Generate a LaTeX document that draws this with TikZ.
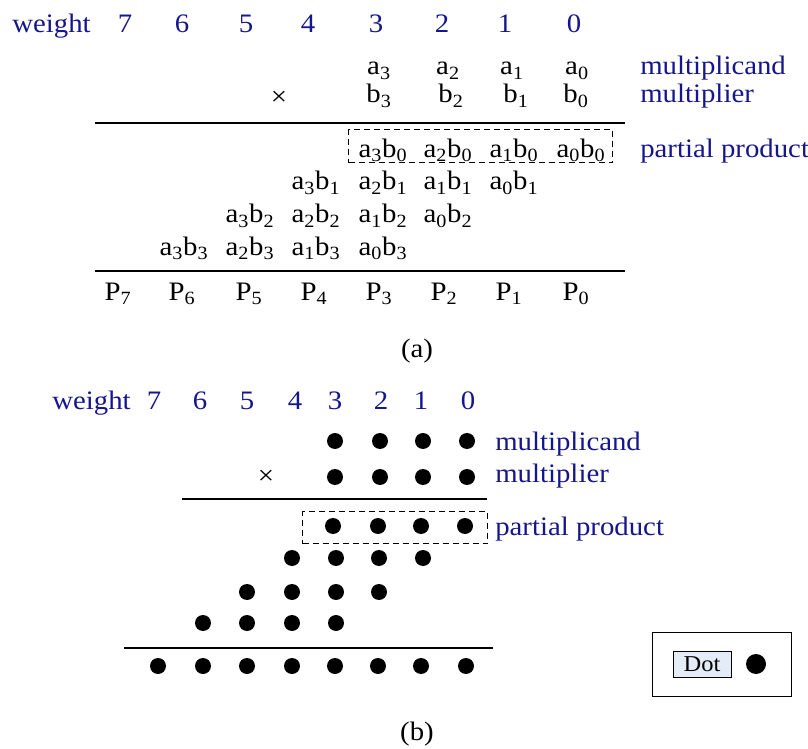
\documentclass[tikz,border=0pt]{standalone}
\usepackage{fontspec}
\setmainfont{Liberation Serif}[FakeStretch=1.08]
\definecolor{navy}{RGB}{22,22,140}
\definecolor{dotbg}{RGB}{228,236,248}
\begin{document}
\begin{tikzpicture}[x=0.75pt,y=-0.75pt,
  txt/.style={inner sep=0pt,anchor=base,font=\fontsize{20}{24}\selectfont},
  lbl/.style={txt,text=navy},
  lblw/.style={lbl,anchor=base west},
  rulel/.style={line width=1.5pt},
  dbox/.style={draw,line width=0.9pt,dash pattern=on 4.5pt off 3pt},
  bdot/.style={circle,fill=black,inner sep=0pt,minimum size=12pt}]
\useasboundingbox (0,0) rectangle (808,749);

% ---------------- (a) ----------------
\node[lblw] (wa) at (12,33) {weight};
\foreach \x [count=\i from 0] in {574,505,442,376,308,246,182,125}
  \node[lbl] (wa\i) at (\x,33) {\i};
\foreach \x [count=\i from 0] in {577,512,448,379}
  \node[txt] (aa\i) at (\x,75) {a\textsubscript{\i}};
\foreach \x [count=\i from 0] in {576,516,451,379}
  \node[txt] (bb\i) at (\x,103) {b\textsubscript{\i}};
\node[lblw] (mcand) at (640,75) {multiplicand};
\node[lblw] (mplier) at (640,103) {multiplier};
\node[txt,anchor=center] (xa) at (279,98) {×};
\draw[rulel] (95,123) coordinate (la1) -- (625,123) coordinate (la2);
\node[dbox,inner sep=0pt,minimum width=198pt,minimum height=24.75pt,anchor=north west] (ppa) at (348,129) {};
% partial products
\foreach \x [count=\i from 0] in {581,514,448,383} {
  \pgfmathtruncatemacro{\j}{\i}
  \node[txt] (p0\i) at (\x,157) {a\textsubscript{\j}b\textsubscript{0}};
}
\foreach \x/\i in {514/0,448/1,383/2,316/3}
  \node[txt] (p1\i) at (\x,190) {a\textsubscript{\i}b\textsubscript{1}};
\foreach \x/\i in {448/0,383/1,316/2,250/3}
  \node[txt] (p2\i) at (\x,223) {a\textsubscript{\i}b\textsubscript{2}};
\foreach \x/\i in {383/0,316/1,250/2,184/3}
  \node[txt] (p3\i) at (\x,255) {a\textsubscript{\i}b\textsubscript{3}};
\draw[rulel] (95,271) coordinate (lb1) -- (625,271) coordinate (lb2);
\foreach \x [count=\i from 0] in {576,509,444,379,314,249,182,118}
  \node[txt] (P\i) at (\x,300) {P\textsubscript{\i}};
\node[lblw] (ppl) at (640,158) {partial product};
\node[txt] (capa) at (417,357) {(a)};

% ---------------- (b) ----------------
\node[lblw] (wb) at (52,409) {weight};
\foreach \x [count=\i from 0] in {468,421,381,335,295,247,200,154}
  \node[lbl] (wb\i) at (\x,409) {\i};
\foreach \x [count=\i] in {335,380,423,467} {
  \node[bdot] (ra\i) at (\x,441) {};
  \node[bdot] (rb\i) at (\x,477) {};
}
\node[txt,anchor=center] (xb) at (266,477) {×};
\draw[rulel] (182,499) coordinate (lc1) -- (487,499) coordinate (lc2);
\node[dbox,inner sep=0pt,minimum width=138.75pt,minimum height=24pt,anchor=north west] (ppb) at (302,511) {};
\foreach \x [count=\i] in {333,378,421,465}
  \node[bdot] (rc\i) at (\x,526) {};
\foreach \x [count=\i] in {292,336,379,423}
  \node[bdot] (rd\i) at (\x,558) {};
\foreach \x [count=\i] in {247,292,336,379}
  \node[bdot] (re\i) at (\x,592) {};
\foreach \x [count=\i] in {203,247,292,336}
  \node[bdot] (rf\i) at (\x,623) {};
\draw[rulel] (124,648) coordinate (ld1) -- (493,648) coordinate (ld2);
\foreach \x [count=\i] in {158,203,247,292,335,378,421,466}
  \node[bdot] (rg\i) at (\x,666) {};
\node[lblw] (mcandb) at (495,450) {multiplicand};
\node[lblw] (mplierb) at (495,482) {multiplier};
\node[lblw] (pplb) at (495,535) {partial product};
% legend
\node[draw,line width=0.8pt,inner sep=0pt,minimum width=104.25pt,minimum height=48pt,anchor=north west] (legend) at (652,632) {};
\node[draw,line width=0.6pt,fill=dotbg,inner sep=0pt,minimum width=43.5pt,minimum height=19.5pt,
      font=\fontsize{17}{20}\selectfont] (dotlbl) at (702,664) {Dot};
\node[bdot,minimum size=15pt] (legdot) at (756,664) {};
\node[txt] (capb) at (417,740) {(b)};
\end{tikzpicture}
\end{document}
